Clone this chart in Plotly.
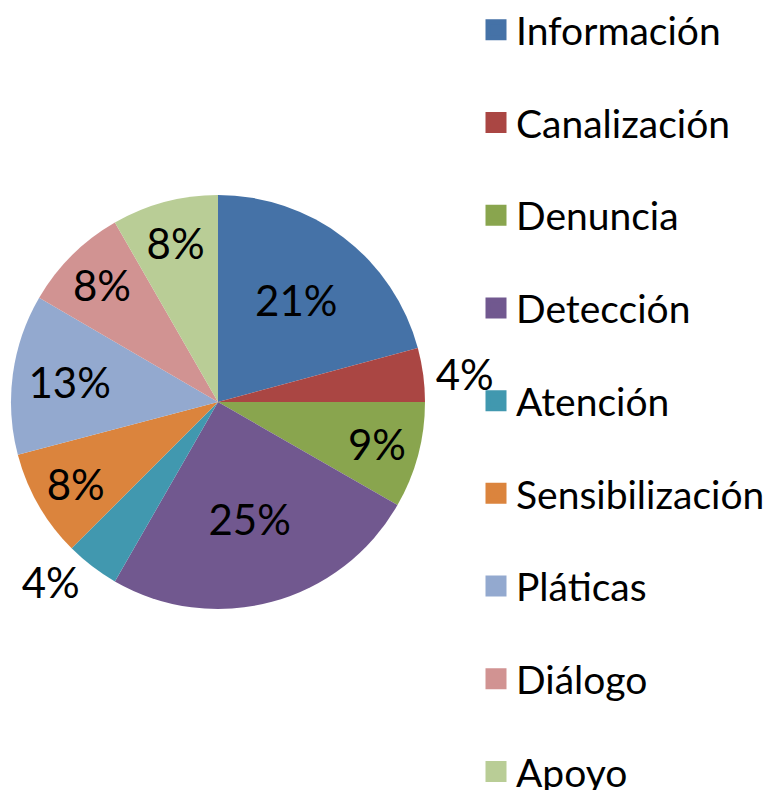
import plotly.graph_objects as go

categories = ["Información", "Canalización", "Denuncia", "Detección", "Atención",
              "Sensibilización", "Pláticas", "Diálogo", "Apoyo"]
values = [20.8, 4.2, 8.3, 25.0, 4.2, 8.4, 12.5, 8.3, 8.3]
pct_labels = ["21%", "4%", "9%", "25%", "4%", "8%", "13%", "8%", "8%"]
colors = ["#4572A7", "#AA4643", "#89A54E", "#71588F", "#4198AF",
          "#DB843D", "#93A9CF", "#D19392", "#B9CD96"]
text_pos = ["inside", "outside", "inside", "inside", "outside",
            "inside", "inside", "inside", "inside"]

FONT = "Lato"
W, H = 773, 790
cx, cy, r = 218, 402, 207

fig = go.Figure()
fig.add_trace(go.Pie(
    labels=categories, values=values, text=pct_labels,
    textinfo="text", textposition=text_pos,
    insidetextorientation="horizontal",
    sort=False, direction="clockwise", rotation=0,
    marker=dict(colors=colors, line=dict(width=0)),
    textfont=dict(family=FONT, size=42, color="black"),
    showlegend=False,
    domain=dict(x=[(cx - r) / W, (cx + r) / W], y=[(H - cy - r) / H, (H - cy + r) / H]),
))

for name, col in zip(categories, colors):
    fig.add_trace(go.Scatter(
        x=[None], y=[None], mode="markers", name=name, legendgroup=name,
        marker=dict(symbol="square", size=16, color=col, line=dict(width=5, color=col)),
    ))

fig.update_layout(
    width=W, height=H,
    margin=dict(l=0, r=0, t=0, b=0, autoexpand=False),
    paper_bgcolor="white", plot_bgcolor="white",
    xaxis=dict(visible=False), yaxis=dict(visible=False),
    legend=dict(x=476 / W, y=1 + 2 / H, xanchor="left", yanchor="top",
                font=dict(family=FONT, size=39, color="black"),
                tracegroupgap=39, itemwidth=30, bgcolor="rgba(0,0,0,0)",
                maxheight=1000),
)

fig.write_html(
    "out.html",
    config={"displayModeBar": False},
    post_script="document.body.style.margin='0';document.body.style.overflow='hidden';",
)
